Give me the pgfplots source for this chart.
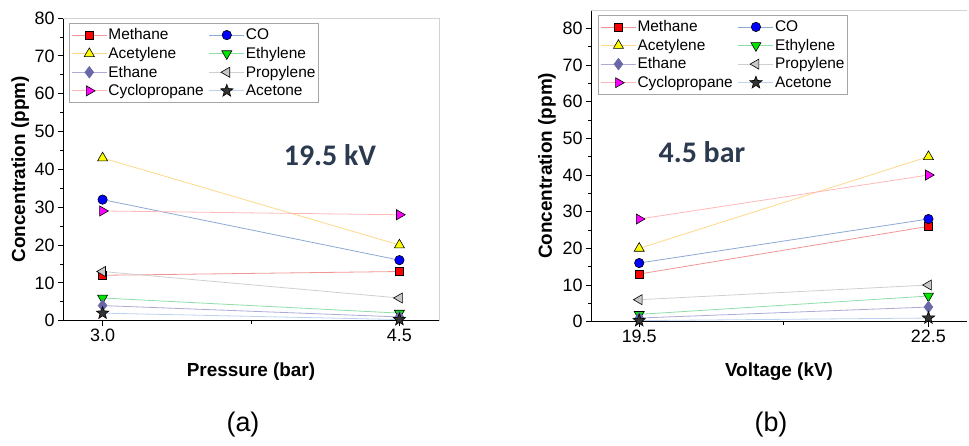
\documentclass[border=0pt]{standalone}
\usepackage{fontspec}
\setmainfont{Liberation Sans}
\newfontfamily\annfont{Carlito}
\usepackage{pgfplots}
\pgfplotsset{compat=1.18}

\definecolor{meF}{HTML}{FF0000}\definecolor{meL}{HTML}{F29595}
\definecolor{coF}{HTML}{0000FF}\definecolor{coL}{HTML}{8DA8D4}
\definecolor{acF}{HTML}{FFFF00}\definecolor{acL}{HTML}{FFD98A}
\definecolor{etF}{HTML}{00E600}\definecolor{etL}{HTML}{8FDDAA}
\definecolor{eaF}{HTML}{6868A8}\definecolor{eaL}{HTML}{ABABD6}
\definecolor{prF}{HTML}{C8C8C8}\definecolor{prL}{HTML}{CFCFCF}
\definecolor{cyF}{HTML}{FF00FF}\definecolor{cyL}{HTML}{FFB8B8}
\definecolor{atF}{HTML}{333333}\definecolor{atL}{HTML}{BCD2EE}
\definecolor{annC}{HTML}{2B3A4E}

\pgfdeclareplotmark{fstar}{%
  \pgfpathmoveto{\pgfpointpolar{90}{\pgfplotmarksize}}%
  \pgfpathlineto{\pgfpointpolar{126}{0.42\pgfplotmarksize}}%
  \pgfpathlineto{\pgfpointpolar{162}{\pgfplotmarksize}}%
  \pgfpathlineto{\pgfpointpolar{198}{0.42\pgfplotmarksize}}%
  \pgfpathlineto{\pgfpointpolar{234}{\pgfplotmarksize}}%
  \pgfpathlineto{\pgfpointpolar{270}{0.42\pgfplotmarksize}}%
  \pgfpathlineto{\pgfpointpolar{306}{\pgfplotmarksize}}%
  \pgfpathlineto{\pgfpointpolar{342}{0.42\pgfplotmarksize}}%
  \pgfpathlineto{\pgfpointpolar{18}{\pgfplotmarksize}}%
  \pgfpathlineto{\pgfpointpolar{54}{0.42\pgfplotmarksize}}%
  \pgfpathclose
  \pgfusepathqfillstroke}

\pgfplotsset{
 mystyle/.style={
   scale only axis, width=376bp, clip=false,
   axis x line*=bottom, axis y line*=left,
   axis line style={-, black, line width=0.9bp},
   tick align=outside,
   ymin=0, ytick={0,10,...,80}, minor y tick num=1,
   major tick length=5bp, minor tick length=3bp,
   every tick/.style={black, line width=0.8bp},
   ticklabel style={font=\fontsize{18}{21}\selectfont},
   /pgf/number format/assume math mode=true,
   label style={font=\bfseries\fontsize{19}{22}\selectfont},
   legend columns=2,
   legend cell align=left,
   legend style={draw=gray!70, line width=0.8bp, fill=white,
     font=\fontsize{15.5}{18}\selectfont,
     inner xsep=2bp, inner ysep=4bp, row sep=3.5bp,
     /tikz/every even column/.append style={column sep=4bp},
     nodes={inner sep=1.2bp}},
   legend image code/.code={
     \draw[line width=0.8bp] (0bp,0bp) -- (35bp,0bp);
     \draw[mark repeat=2,mark phase=2] plot coordinates {(0bp,0bp)(17.5bp,0bp)(35bp,0bp)};},
 },
 ln/.style={line width=0.8bp},
 sMe/.style={ln, color=meL, mark=square*, mark size=4bp, mark options={fill=meF, draw=black, line width=0.6bp}},
 sCo/.style={ln, color=coL, mark=*, mark size=4.7bp, mark options={fill=coF, draw=black, line width=0.6bp}},
 sAc/.style={ln, color=acL, mark=triangle*, mark size=5.8bp, mark options={fill=acF, draw=black, line width=0.6bp}},
 sEt/.style={ln, color=etL, mark=triangle*, mark size=5.8bp, mark options={rotate=180, fill=etF, draw=black, line width=0.6bp}},
 sEa/.style={ln, color=eaL, mark=diamond*, mark size=5.8bp, mark options={fill=eaF, draw=eaF, line width=0.6bp}},
 sPr/.style={ln, color=prL, mark=triangle*, mark size=5.8bp, mark options={rotate=90, fill=prF, draw=black, line width=0.6bp}},
 sCy/.style={ln, color=cyL, mark=triangle*, mark size=5.8bp, mark options={rotate=-90, fill=cyF, draw=black, line width=0.6bp}},
 sAt/.style={ln, color=atL, mark=fstar, mark size=6.5bp, mark options={draw=black, fill=atF, line width=0.6bp}},
}

\begin{document}
\begin{tikzpicture}
\useasboundingbox (0,0) rectangle (969bp,446bp);
% ---------- panel (a)
\begin{axis}[mystyle, at={(63bp,125.3bp)}, anchor=south west,
  height=302.7bp, xmin=2.8, xmax=4.7, ymax=80,
  xtick={3.0,4.5}, xticklabels={3.0,4.5}, minor xtick={3.75},
  xlabel={Pressure (bar)}, ylabel={Concentration (ppm)},
  xlabel style={at={(axis description cs:0.5,-0.168)}, anchor=center},
  ylabel style={at={(axis description cs:-0.114,0.5)}, anchor=center},
  legend style={at={(axis description cs:0.016,0.983)}, anchor=north west}]
\draw[gray!35, line width=0.8bp] (rel axis cs:0,1) -- (rel axis cs:1,1) -- (rel axis cs:1,0);
\addplot[sMe] coordinates {(3.0,12) (4.5,13)}; \addlegendentry{Methane}
\addplot[sCo] coordinates {(3.0,32) (4.5,16)}; \addlegendentry{CO}
\addplot[sAc] coordinates {(3.0,43) (4.5,20)}; \addlegendentry{Acetylene}
\addplot[sEt] coordinates {(3.0,6) (4.5,2)}; \addlegendentry{Ethylene}
\addplot[sEa] coordinates {(3.0,4) (4.5,1)}; \addlegendentry{Ethane}
\addplot[sPr] coordinates {(3.0,13) (4.5,6)}; \addlegendentry{Propylene}
\addplot[sCy] coordinates {(3.0,29) (4.5,28)}; \addlegendentry{Cyclopropane}
\addplot[sAt] coordinates {(3.0,2) (4.5,0.3)}; \addlegendentry{Acetone}
\node[font=\annfont\bfseries\fontsize{30}{34}\selectfont, text=annC] at (axis description cs:0.71,0.547) {19.5 kV};
\end{axis}
% ---------- panel (b)
\begin{axis}[mystyle, at={(591bp,124.3bp)}, anchor=south west,
  height=311.7bp, xmin=19.0, xmax=22.9, ymax=85,
  xtick={19.5,22.5}, xticklabels={19.5,22.5}, minor xtick={21},
  xlabel={Voltage (kV)}, ylabel={Concentration (ppm)},
  xlabel style={at={(axis description cs:0.5,-0.16)}, anchor=center},
  ylabel style={at={(axis description cs:-0.117,0.5)}, anchor=center},
  legend style={at={(axis description cs:0.019,0.984)}, anchor=north west}]
\draw[gray!35, line width=0.8bp] (rel axis cs:0,1) -- (rel axis cs:1,1);
\addplot[sMe] coordinates {(19.5,13) (22.5,26)}; \addlegendentry{Methane}
\addplot[sCo] coordinates {(19.5,16) (22.5,28)}; \addlegendentry{CO}
\addplot[sAc] coordinates {(19.5,20) (22.5,45)}; \addlegendentry{Acetylene}
\addplot[sEt] coordinates {(19.5,2) (22.5,7)}; \addlegendentry{Ethylene}
\addplot[sEa] coordinates {(19.5,1) (22.5,4)}; \addlegendentry{Ethane}
\addplot[sPr] coordinates {(19.5,6) (22.5,10)}; \addlegendentry{Propylene}
\addplot[sCy] coordinates {(19.5,28) (22.5,40)}; \addlegendentry{Cyclopropane}
\addplot[sAt] coordinates {(19.5,0.3) (22.5,1)}; \addlegendentry{Acetone}
\node[font=\annfont\bfseries\fontsize{30}{34}\selectfont, text=annC] at (axis description cs:0.295,0.544) {4.5 bar};
\end{axis}
\node[font=\fontsize{27}{30}\selectfont] at (243bp,21bp) {(a)};
\node[font=\fontsize{27}{30}\selectfont] at (771bp,21bp) {(b)};
\end{tikzpicture}
\end{document}
